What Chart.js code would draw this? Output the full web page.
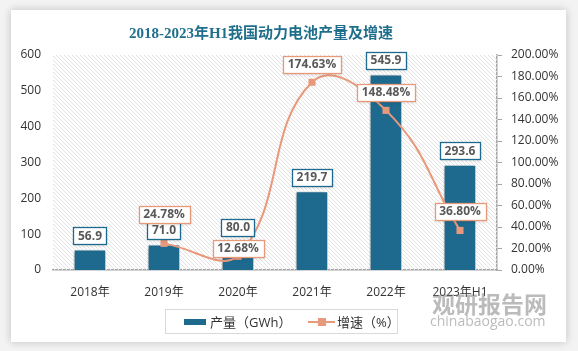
<!DOCTYPE html>
<html>
<head>
<meta charset="utf-8">
<script src="https://cdn.jsdelivr.net/npm/chart.js@4.4.1/dist/chart.umd.min.js"></script>
<style>
  body { margin: 0; background: #f3f3f3; width: 578px; height: 351px; overflow: hidden; position: relative; font-family: "Open Sans", "Noto Sans CJK SC", sans-serif; }
  #card { position: absolute; left: 11px; top: 10px; width: 555px; height: 332px; background: #fff; box-shadow: 0 0 8px rgba(0,0,0,0.22); }
  #chart { position: absolute; left: 0; top: 0; }
  #title { position: absolute; left: -11px; top: 11px; width: 522px; text-align: center; font: bold 15px "Liberation Serif", "Noto Sans CJK SC", serif; color: #1f6e8c; }
  #legend { position: absolute; left: 154px; top: 299px; width: 231px; height: 23px; border: 1px solid #d9d9d9; display: flex; align-items: center; font-size: 13px; color: #333; }
  .item { display: flex; align-items: center; }
  .bar-key { width: 23px; height: 6px; background: #1d6a8e; margin: 0 4px 0 18px; }
  .line-key { position: relative; width: 28px; height: 2px; background: #e9997b; margin: 0 2px 0 20px; }
  .line-key::after { content: ""; position: absolute; left: 10px; top: -3px; width: 8px; height: 8px; background: #e9997b; }
  #wm1 { position: absolute; left: 421px; top: 276px; font: bold 23px "Noto Sans CJK SC", sans-serif; color: rgba(120,120,120,0.5); }
  #wm2 { position: absolute; left: 419px; top: 301px; font: 14px "Open Sans", sans-serif; color: rgba(120,120,120,0.5); }
</style>
</head>
<body>
<div id="card">
  <canvas id="chart" width="555" height="332"></canvas>
  <div id="title">2018-2023年H1我国动力电池产量及增速</div>
  <div id="wm1">观研报告网</div>
  <div id="wm2">chinabaogao.com</div>
  <div id="legend">
    <div class="item"><span class="bar-key"></span>产量（GWh）</div>
    <div class="item"><span class="line-key"></span>增速（%）</div>
  </div>
</div>
<script>
// categories and values
const years = ['2018年', '2019年', '2020年', '2021年', '2022年', '2023年H1'];
const output = [56.9, 71.0, 80.0, 219.7, 545.9, 293.6];
const growth = [null, 24.78, 12.68, 174.63, 148.48, 36.80];
const leftTicks = [0, 100, 200, 300, 400, 500, 600];
const rightTicks = [0, 20, 40, 60, 80, 100, 120, 140, 160, 180, 200];

const barColor = '#1d6a8e';
const lineColor = '#e9997b';

// hatched plot background
function makeHatch() {
  const c = document.createElement('canvas');
  c.width = 4; c.height = 4;
  const g = c.getContext('2d');
  g.strokeStyle = '#e2e2e2';
  g.lineWidth = 1;
  g.beginPath();
  g.moveTo(0, 0); g.lineTo(4, 4);
  g.moveTo(-1, 3); g.lineTo(1, 5);
  g.moveTo(3, -1); g.lineTo(5, 1);
  g.stroke();
  return c;
}

const hatchBg = {
  id: 'hatchBg',
  beforeDatasetsDraw(chart) {
    const { ctx, chartArea: a } = chart;
    ctx.save();
    ctx.fillStyle = ctx.createPattern(makeHatch(), 'repeat');
    ctx.fillRect(a.left, a.top, a.right - a.left, a.bottom - a.top);
    ctx.restore();
  }
};

const barShadow = {
  id: 'barShadow',
  beforeDatasetDraw(chart, args) {
    if (args.index !== 0) return;
    const ctx = chart.ctx;
    ctx.save();
    ctx.shadowColor = 'rgba(0,0,0,0.35)';
    ctx.shadowBlur = 4;
    ctx.shadowOffsetX = -2;
    ctx.shadowOffsetY = 1;
  },
  afterDatasetDraw(chart, args) {
    if (args.index !== 0) return;
    chart.ctx.restore();
  }
};

function boxLabel(ctx, text, cx, cy, border) {
  ctx.font = 'bold 12px "Open Sans", sans-serif';
  const w = ctx.measureText(text).width + 9;
  const h = 17;
  ctx.save();
  ctx.shadowColor = 'rgba(0,0,0,0.18)';
  ctx.shadowBlur = 3;
  ctx.shadowOffsetY = 1;
  ctx.fillStyle = '#fff';
  ctx.fillRect(Math.round(cx - w / 2) + 0.5, Math.round(cy - h / 2) + 0.5, Math.round(w), h);
  ctx.restore();
  ctx.strokeStyle = border;
  ctx.lineWidth = 1.3;
  ctx.strokeRect(Math.round(cx - w / 2) + 0.5, Math.round(cy - h / 2) + 0.5, Math.round(w), h);
  ctx.fillStyle = '#595959';
  ctx.textAlign = 'center';
  ctx.textBaseline = 'middle';
  ctx.fillText(text, cx, cy + 0.5);
}

// label nudges (px) for the growth labels, as Excel placed them
const lineLabelDy = [0, -29, -8, -18, -18, -19];

const boxLabels = {
  id: 'boxLabels',
  afterDatasetsDraw(chart) {
    const ctx = chart.ctx;
    chart.getDatasetMeta(0).data.forEach((bar, i) => {
      boxLabel(ctx, output[i].toFixed(1), bar.x, bar.y - 14, barColor);
    });
    chart.getDatasetMeta(1).data.forEach((pt, i) => {
      if (growth[i] == null) return;
      boxLabel(ctx, growth[i].toFixed(2) + '%', pt.x, pt.y + lineLabelDy[i], lineColor);
    });
  }
};

window.onload = function() {
  const ctx = document.getElementById('chart').getContext('2d');
  new Chart(ctx, {
    data: {
      labels: years,
      datasets: [{
        type: 'bar',
        label: '产量（GWh）',
        data: output,
        backgroundColor: barColor,
        borderColor: '#ffffff',
        borderWidth: 1,
        categoryPercentage: 1,
        barPercentage: 0.44,
        yAxisID: 'y',
        order: 2
      }, {
        type: 'line',
        label: '增速（%）',
        data: growth,
        borderColor: lineColor,
        backgroundColor: lineColor,
        borderWidth: 2,
        tension: 0.45,
        pointStyle: 'rect',
        pointRadius: 5,
        pointBorderWidth: 0,
        yAxisID: 'y1',
        order: 1
      }]
    },
    options: {
      responsive: false,
      animation: false,
      layout: { padding: { top: 45, left: 0, right: 0, bottom: 0 } },
      plugins: {
        legend: { display: false },
        tooltip: { enabled: false },
        title: { display: false }
      },
      scales: {
        x: {
          grid: { display: false, drawTicks: false },
          border: { color: '#a6a6a6', width: 1.5 },
          ticks: { color: '#333', font: { size: 12, family: '"Open Sans", "Noto Sans CJK SC"' }, padding: 15, maxRotation: 0 },
          afterFit(s) { s.height = 72; }
        },
        y: {
          min: 0, max: 600,
          afterBuildTicks(s) { s.ticks = leftTicks.map(v => ({ value: v })); },
          grid: { display: false, drawTicks: false },
          border: { display: false },
          ticks: { color: '#333', font: { size: 12, family: '"Open Sans"' }, padding: 12 },
          afterFit(s) { s.width = 42; }
        },
        y1: {
          position: 'right',
          min: 0, max: 200,
          afterBuildTicks(s) { s.ticks = rightTicks.map(v => ({ value: v })); },
          grid: { drawOnChartArea: false, color: '#a6a6a6', tickLength: 5 },
          border: { color: '#a6a6a6', width: 1.5 },
          ticks: { color: '#333', font: { size: 12, family: '"Open Sans"' }, padding: 9,
            callback: v => v.toFixed(2) + '%' },
          afterFit(s) { s.width = 69; }
        }
      }
    },
    plugins: [hatchBg, barShadow, boxLabels]
  });
};
</script>
</body>
</html>
